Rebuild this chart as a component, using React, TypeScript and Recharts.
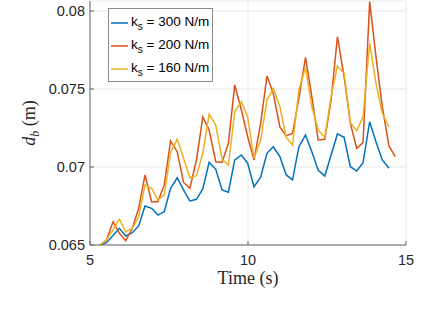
import React from 'react';
import {
  LineChart, Line, XAxis, YAxis, CartesianGrid, Legend,
} from 'recharts';

// time samples (s)
const time = [
  5.32, 5.52, 5.73, 5.93, 6.13, 6.34, 6.54, 6.74, 6.95, 7.15,
  7.35, 7.55, 7.76, 7.96, 8.16, 8.37, 8.57, 8.77, 8.98, 9.18,
  9.38, 9.58, 9.79, 9.99, 10.19, 10.40, 10.60, 10.80, 11.01, 11.21,
  11.41, 11.61, 11.82, 12.02, 12.22, 12.43, 12.63, 12.83, 13.04, 13.24,
  13.44, 13.64, 13.85, 14.05, 14.25, 14.46, 14.66,
];

// d_b (m) for each spring stiffness
const ks300 = [
  0.0650, 0.06515, 0.06561, 0.06607, 0.06558, 0.06579, 0.06622, 0.0675, 0.06735, 0.06692,
  0.06713, 0.06863, 0.06931, 0.06853, 0.06782, 0.06793, 0.06859, 0.0703, 0.06985, 0.06853,
  0.06838, 0.07045, 0.07077, 0.07024, 0.06874, 0.06934, 0.07088, 0.0713, 0.07066, 0.06949,
  0.06917, 0.0713, 0.07205, 0.07098, 0.06981, 0.06942, 0.07077, 0.07212, 0.0719, 0.07002,
  0.06974, 0.07028, 0.0729, 0.07162, 0.07045, 0.06992,
];
const ks200 = [
  0.0650, 0.06532, 0.06649, 0.06575, 0.06528, 0.06607, 0.06735, 0.06949, 0.06778, 0.06778,
  0.06885, 0.07167, 0.07098, 0.06901, 0.06863, 0.07045, 0.07321, 0.07237, 0.07034, 0.0703,
  0.07152, 0.07526, 0.07365, 0.07194, 0.07045, 0.0728, 0.07583, 0.07472, 0.07255, 0.07199,
  0.07216, 0.0744, 0.07703, 0.07451, 0.07173, 0.07178, 0.07429, 0.07835, 0.07579, 0.0728,
  0.0712, 0.07156, 0.0806, 0.07707, 0.07386, 0.07135, 0.07066,
];
const ks160 = [
  0.0650, 0.06532, 0.06598, 0.06665, 0.06585, 0.06607, 0.06681, 0.06885, 0.06863, 0.06788,
  0.06821, 0.07093, 0.07178, 0.07056, 0.06931, 0.06944, 0.07088, 0.07339, 0.07269, 0.07049,
  0.07013, 0.07354, 0.07419, 0.07319, 0.07056, 0.07173, 0.07429, 0.07504, 0.07386, 0.0719,
  0.07141, 0.07494, 0.07639, 0.07386, 0.07237, 0.0719, 0.07451, 0.07647, 0.07601, 0.07284,
  0.07233, 0.07322, 0.07793, 0.07537, 0.07344, 0.07258,
];

const seriesNames = ['300 N/m', '200 N/m', '160 N/m'];
const xTicks = [5, 10, 15];
const yTicks = [0.065, 0.07, 0.075, 0.08];

const data = time.map((t, i) => ({ t, a: ks300[i], b: ks200[i], c: ks160[i] }));

const FONT = '"Liberation Sans", Arial, sans-serif';
const SERIF = '"Liberation Serif", "Times New Roman", serif';
const AX = '#666666';
const TXT = '#262626';

function YLabel(props: any) {
  const vb = props.viewBox || {};
  const cx = vb.x + 35;
  const cy = vb.y + vb.height / 2;
  return (
    <text x={cx} y={cy} transform={`rotate(-90, ${cx}, ${cy})`} textAnchor="middle"
      fontFamily={SERIF} fontSize={18} fill={TXT}>
      <tspan fontStyle="italic">d</tspan>
      <tspan fontStyle="italic" fontSize={12} dy={4}>b</tspan>
      <tspan dy={-4}> (m)</tspan>
    </text>
  );
}

function KsLegend({ payload }: any) {
  const items = [...(payload || [])].sort(
    (p: any, q: any) => seriesNames.indexOf(p.value) - seriesNames.indexOf(q.value));
  return (
    <div style={{
      background: '#fff', border: '1px solid #8a8a8a', width: 103, height: 70,
      boxSizing: 'content-box', fontFamily: FONT, fontSize: 13.5, color: '#000',
      paddingTop: 2,
    }}>
      {items.map((p: any) => (
        <div key={p.value} style={{ height: 23, display: 'flex', alignItems: 'center' }}>
          <svg width={22} height={10} style={{ flex: 'none' }}>
            <line x1={2} y1={5} x2={19} y2={5} stroke={p.color} strokeWidth={1.5} />
          </svg>
          <span style={{ whiteSpace: 'nowrap' }}>
            k<sub style={{ fontSize: 10, verticalAlign: -4 }}>s</sub> = {p.value}
          </span>
        </div>
      ))}
    </div>
  );
}

export default function App() {
  return (
    <div style={{ position: 'absolute', left: 0, top: 0, background: '#fff' }}>
      <LineChart width={444} height={322} data={data}
        margin={{ top: 1, right: 38, bottom: 0, left: 0 }}>
        <CartesianGrid stroke="#e8e8e8" strokeWidth={1} />
        <XAxis dataKey="t" type="number" domain={[5, 15]} ticks={xTicks}
          height={77} tickSize={-4} tickMargin={14} stroke={AX}
          tick={{ fontFamily: FONT, fontSize: 14.5, fill: TXT }}
          label={{ value: 'Time (s)', position: 'insideTop', offset: 26,
            style: { fontFamily: SERIF, fontSize: 18, fill: TXT } }} />
        <XAxis xAxisId="top" orientation="top" type="number" domain={[5, 15]} ticks={xTicks}
          height={0} tickSize={-4} stroke={AX} tickFormatter={() => ''} />
        <YAxis type="number" domain={[0.065, 0.08064]} ticks={yTicks} allowDataOverflow
          width={90} tickSize={-4} tickMargin={9} stroke={AX}
          tickFormatter={(v: number) => String(v)}
          tick={{ fontFamily: FONT, fontSize: 14.5, fill: TXT }}
          label={{ content: <YLabel /> }} />
        <YAxis yAxisId="right" orientation="right" type="number" domain={[0.065, 0.08064]}
          ticks={yTicks} width={0} tickSize={-4} stroke={AX} tickFormatter={() => ''} />
        <Legend layout="horizontal" verticalAlign="middle" align="center"
          content={<KsLegend />}
          wrapperStyle={{ left: 108, top: 8, width: 105, height: 72 }} />
        <Line dataKey="a" name={seriesNames[0]} stroke="#0072BD" strokeWidth={1.5} dot={false}
          isAnimationActive={false} />
        <Line dataKey="b" name={seriesNames[1]} stroke="#D95319" strokeWidth={1.5} dot={false}
          isAnimationActive={false} />
        <Line dataKey="c" name={seriesNames[2]} stroke="#EDB120" strokeWidth={1.5} dot={false}
          isAnimationActive={false} />
      </LineChart>
    </div>
  );
}
